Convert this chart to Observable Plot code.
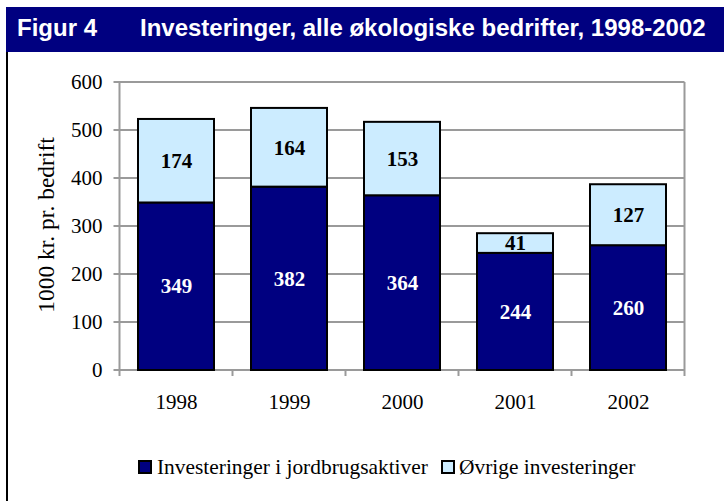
<!DOCTYPE html>
<html>
<head>
<meta charset="utf-8">
<script src="https://cdn.jsdelivr.net/npm/d3@7"></script>
<script src="https://cdn.jsdelivr.net/npm/@observablehq/plot@0.6"></script>
<style>
  html, body { margin: 0; padding: 0; background: #fff; }
  #wrap { position: relative; width: 724px; height: 501px; overflow: hidden; background: #fff; }
  #titlebar { position: absolute; left: 6px; top: 7px; width: 718px; height: 45px; background: #000080; color: #fff;
    font-family: "Liberation Sans", Arial, sans-serif; font-weight: bold; font-size: 24px; }
  #titlebar span { position: absolute; top: 7px; white-space: nowrap; }
  #leftborder { position: absolute; left: 6px; top: 52px; width: 2px; height: 449px; background: #000; }
  #chart { position: absolute; left: 0; top: 60px; }
  #chart svg text { font-family: "Liberation Serif", "Times New Roman", serif; }
  #ylabel { position: absolute; left: 46px; top: 225px; transform: translate(-50%, -50%) rotate(-90deg);
    font-family: "Liberation Serif", "Times New Roman", serif; font-size: 23.5px; white-space: nowrap; color: #000; }
  #legend { position: absolute; top: 455px; left: 0; width: 724px; height: 26px;
    font-family: "Liberation Serif", "Times New Roman", serif; font-size: 21.4px; color: #000; }
  .litem { position: absolute; top: 0; white-space: nowrap; }
  .sw { position: absolute; top: 5px; width: 14px; height: 14px; box-sizing: border-box; border: 2px solid #000; }
  .ltxt { position: absolute; top: 0; line-height: 24px; }
</style>
</head>
<body>
<div id="wrap">
  <div id="titlebar"><span id="t1" style="left:11px"></span><span id="t2" style="left:134px"></span></div>
  <div id="leftborder"></div>
  <div id="chart"></div>
  <div id="ylabel"></div>
  <div id="legend"></div>
</div>
<script>
const figLabel = "Figur 4";
const title = "Investeringer, alle økologiske bedrifter, 1998-2002";
const yLabel = "1000 kr. pr. bedrift";
const years = ["1998", "1999", "2000", "2001", "2002"];
const seriesNames = ["Investeringer i jordbrugsaktiver", "Øvrige investeringer"];
const jordbrug = [349, 382, 364, 244, 260];
const ovrige = [174, 164, 153, 41, 127];
const yTicks = [0, 100, 200, 300, 400, 500, 600];
const colors = ["#000080", "#CCECFF"];
const labelColors = ["#ffffff", "#000000"];
const GRID = "#9a9a9a";

document.getElementById("t1").textContent = figLabel;
document.getElementById("t2").textContent = title;
document.getElementById("ylabel").textContent = yLabel;

const data = [];
[jordbrug, ovrige].forEach((vals, si) => {
  vals.forEach((v, i) => data.push({year: years[i], series: seriesNames[si], value: v}));
});

function frameMark(index, scales, values, dimensions) {
  const x = scales.x, y = scales.y;
  const bw = typeof x.bandwidth === "function" ? x.bandwidth() : x.bandwidth;
  const step = x(years[1]) - x(years[0]);
  const off = (step - bw) / 2;
  const bounds = years.map(d => x(d) - off);
  bounds.push(x(years[years.length - 1]) + bw + off);
  const x0 = bounds[0], x1 = bounds[bounds.length - 1];
  const y0 = y(0), yTop = y(yTicks[yTicks.length - 1]);
  const g = d3.create("svg:g").attr("stroke", GRID).attr("stroke-width", 2).attr("fill", "none");
  for (const t of yTicks) {
    g.append("line").attr("x1", x0 - 6).attr("x2", x1).attr("y1", y(t)).attr("y2", y(t));
  }
  bounds.forEach((bx, i) => {
    const top = (i === 0 || i === bounds.length - 1) ? yTop : y0;
    g.append("line").attr("x1", bx).attr("x2", bx).attr("y1", top).attr("y2", y0 + 6);
  });
  return g.node();
}

const serif = "Liberation Serif, Times New Roman, serif";

const chart = Plot.plot({
  width: 724,
  height: 360,
  marginLeft: 118,
  marginRight: 38,
  marginTop: 22,
  marginBottom: 50,
  style: {fontFamily: serif, fontSize: "21px", color: "#000", background: "transparent"},
  x: {domain: years, paddingInner: 0.33, paddingOuter: 0.165, label: null},
  y: {domain: [0, 600], label: null},
  color: {domain: seriesNames, range: colors},
  marks: [
    frameMark,
    Plot.barY(data, {x: "year", y: "value", fill: "series", stroke: "#000", strokeWidth: 2}),
    Plot.text(data, Plot.stackY({x: "year", y: "value", z: "series",
      text: d => d.series === seriesNames[0] ? String(d.value) : "",
      fill: labelColors[0], fontWeight: "bold", fontSize: 21, fontFamily: serif})),
    Plot.text(data, Plot.stackY({x: "year", y: "value", z: "series",
      text: d => d.series === seriesNames[1] ? String(d.value) : "",
      fill: labelColors[1], fontWeight: "bold", fontSize: 21, fontFamily: serif})),
    Plot.axisY({ticks: yTicks, tickSize: 0, tickPadding: 16, label: null, fontSize: 21, fontFamily: serif}),
    Plot.axisX({tickSize: 0, tickPadding: 24, label: null, fontSize: 21, fontFamily: serif})
  ]
});
document.getElementById("chart").appendChild(chart);

const legend = document.getElementById("legend");
const legendPos = [[138, 157], [441, 459]];
seriesNames.forEach((name, i) => {
  const item = document.createElement("div");
  item.className = "litem";
  const sw = document.createElement("div");
  sw.className = "sw";
  sw.style.left = legendPos[i][0] + "px";
  sw.style.background = colors[i];
  const tx = document.createElement("div");
  tx.className = "ltxt";
  tx.style.left = legendPos[i][1] + "px";
  tx.textContent = name;
  item.appendChild(sw);
  item.appendChild(tx);
  legend.appendChild(item);
});
</script>
</body>
</html>
